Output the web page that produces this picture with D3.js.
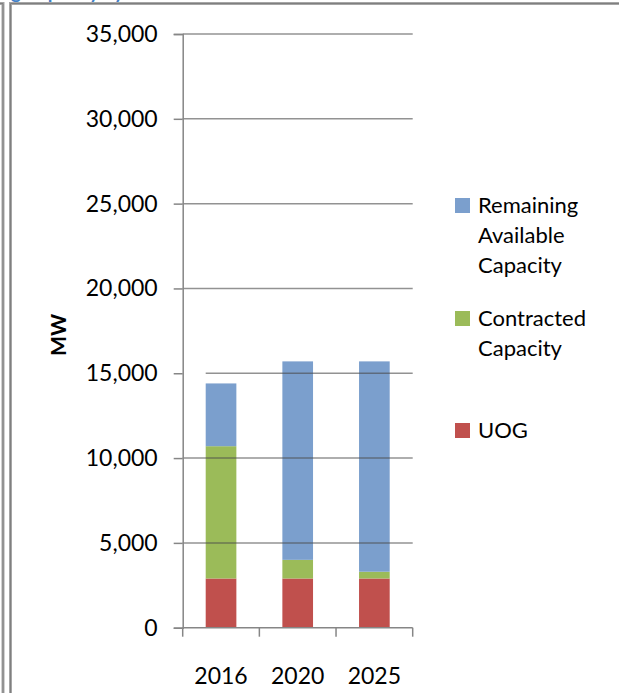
<!DOCTYPE html>
<html>
<head>
<meta charset="utf-8">
<script src="https://cdn.jsdelivr.net/npm/d3@7"></script>
<style>
  html, body { margin: 0; padding: 0; background: #fff; }
  svg { display: block; }
  text { font-family: Lato, "Open Sans", sans-serif; fill: #000; }
</style>
</head>
<body>
<svg id="chart" width="619" height="693"></svg>
<script>
// Capacity by year, MW
const years = ["2016", "2020", "2025"];
const uog = [2900, 2900, 2900];
const contracted = [7800, 1100, 400];
const remaining = [3700, 11700, 12400];
const seriesNames = ["UOG", "Contracted Capacity", "Remaining Available Capacity"];
const seriesColors = ["#c0504d", "#9bbb59", "#7b9fcd"];
const yTicks = [0, 5000, 10000, 15000, 20000, 25000, 30000, 35000];
const legendItems = [
  { name: "Remaining Available Capacity", lines: ["Remaining", "Available", "Capacity"] },
  { name: "Contracted Capacity", lines: ["Contracted", "Capacity"] },
  { name: "UOG", lines: ["UOG"] }
];

const svg = d3.select("#chart");

// Page frame lines
const frame = svg.append("g").attr("fill", "none");
frame.append("path").attr("d", "M0,3.5 H3 V693").attr("stroke", "#a6a6a6").attr("stroke-width", 3);
frame.append("path").attr("d", "M0,3.5 H3 V693").attr("stroke", "#7f7f7f").attr("stroke-width", 1);
frame.append("path").attr("d", "M10.5,693 V3.5 H619").attr("stroke", "#a6a6a6").attr("stroke-width", 3);
frame.append("path").attr("d", "M10.5,693 V3.5 H619").attr("stroke", "#7f7f7f").attr("stroke-width", 1);

// Heading above the chart, mostly cut off by the page edge
svg.append("text")
  .attr("x", -46).attr("y", -1)
  .style("font-family", "Lato, sans-serif")
  .style("font-weight", "bold")
  .style("font-size", "19px")
  .style("fill", "#3f7fc8")
  .text("Existing Capacity by Year");

const margin = { left: 182.7, top: 34, right: 412.7, bottom: 627.7 };

const x = d3.scaleBand()
  .domain(years)
  .range([margin.left, margin.right])
  .paddingInner(0.6)
  .paddingOuter(0.3);

const y = d3.scaleLinear()
  .domain([0, 35000])
  .range([margin.bottom, margin.top]);

const rows = years.map((yr, i) => ({
  year: yr,
  "UOG": uog[i],
  "Contracted Capacity": contracted[i],
  "Remaining Available Capacity": remaining[i]
}));
const stacked = d3.stack().keys(seriesNames)(rows);
const color = d3.scaleOrdinal().domain(seriesNames).range(seriesColors);

// Stacked bars
svg.append("g")
  .selectAll("g")
  .data(stacked)
  .join("g")
  .attr("fill", d => color(d.key))
  .selectAll("rect")
  .data(d => d)
  .join("rect")
  .attr("x", d => x(d.data.year))
  .attr("width", x.bandwidth())
  .attr("y", d => y(d[1]))
  .attr("height", d => y(d[0]) - y(d[1]));

// Horizontal gridlines, drawn over the bars
svg.append("g")
  .selectAll("line")
  .data(yTicks.filter(v => v > 0))
  .join("line")
  .attr("x1", d => d === 15000 ? x(years[0]) : margin.left)
  .attr("x2", margin.right)
  .attr("y1", d => y(d))
  .attr("y2", d => y(d))
  .attr("stroke", "#4a4a4a")
  .attr("stroke-opacity", 0.6)
  .attr("stroke-width", 1.5);

// Y axis
const yAxis = svg.append("g")
  .attr("transform", `translate(${margin.left},0)`)
  .call(d3.axisLeft(y).tickValues(yTicks).tickSize(9).tickPadding(16)
    .tickFormat(d3.format(",")));
yAxis.select(".domain").attr("stroke", "#868686").attr("stroke-width", 1.5);
yAxis.selectAll(".tick line").attr("stroke", "#868686").attr("stroke-width", 1.5);
yAxis.selectAll(".tick text")
  .style("font-family", "Lato, sans-serif")
  .style("font-size", "23px")
  .attr("fill", "#000");

// X axis with tick marks at category boundaries
const xAxisG = svg.append("g").attr("transform", `translate(0,${margin.bottom})`);
xAxisG.append("line")
  .attr("x1", margin.left).attr("x2", margin.right)
  .attr("stroke", "#868686").attr("stroke-width", 1.5);
const step = x.step();
const boundaries = years.map((yr, i) => x(yr) - x.paddingInner() * step / 2)
  .concat([margin.right]);
boundaries[0] = margin.left;
xAxisG.selectAll("line.tk")
  .data(boundaries)
  .join("line")
  .attr("class", "tk")
  .attr("x1", d => d).attr("x2", d => d)
  .attr("y1", 0).attr("y2", 9)
  .attr("stroke", "#868686").attr("stroke-width", 1.5);
xAxisG.selectAll("text")
  .data(years)
  .join("text")
  .attr("x", d => x(d) + x.bandwidth() / 2)
  .attr("y", 56)
  .attr("text-anchor", "middle")
  .style("font-size", "23px")
  .text(d => d);

// Y axis title
svg.append("text")
  .attr("transform", "translate(66,335) rotate(-90)")
  .attr("text-anchor", "middle")
  .style("font-weight", "bold")
  .style("font-size", "21px")
  .text("MW");

// Legend
const legendTop = [198, 311, 423];
const legend = svg.append("g");
legendItems.forEach((item, i) => {
  const g = legend.append("g").attr("transform", `translate(455,${legendTop[i]})`);
  g.append("rect")
    .attr("width", 15).attr("height", 15)
    .attr("fill", color(item.name));
  g.selectAll("text")
    .data(item.lines)
    .join("text")
    .attr("x", 23)
    .attr("y", (d, j) => 15 + j * 30)
    .style("font-size", "22px")
    .text(d => d);
});
</script>
</body>
</html>
